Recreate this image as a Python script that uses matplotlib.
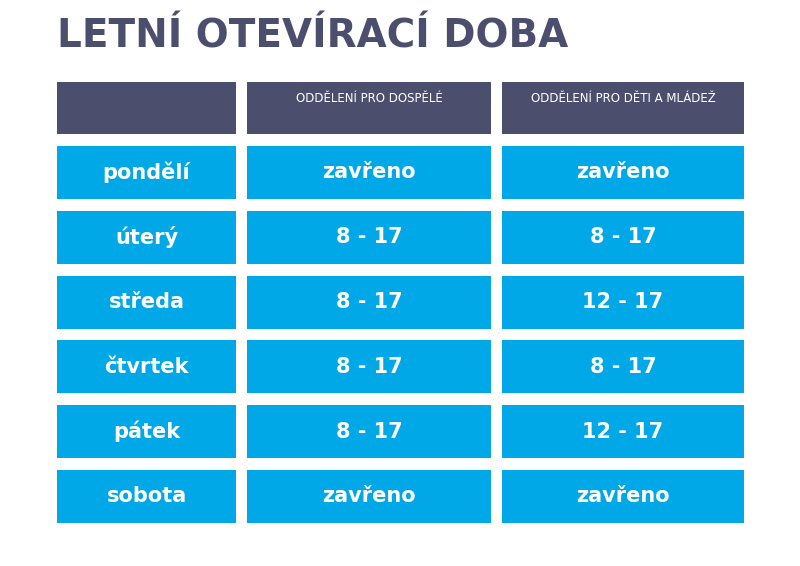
import matplotlib.pyplot as plt
from matplotlib.patches import Rectangle

title = "LETNÍ OTEVÍRACÍ DOBA"
headers = ["", "ODDĚLENÍ PRO DOSPĚLÉ", "ODDĚLENÍ PRO DĚTI A MLÁDEŽ"]
days = ["pondělí", "úterý", "středa", "čtvrtek", "pátek", "sobota"]
adults = ["zavřeno", "8 - 17", "8 - 17", "8 - 17", "8 - 17", "zavřeno"]
children = ["zavřeno", "8 - 17", "12 - 17", "8 - 17", "12 - 17", "zavřeno"]

dark = "#4b4f6d"
blue = "#00a8e8"

fig = plt.figure(figsize=(8, 5.66), dpi=100)
ax = fig.add_axes([0, 0, 1, 1])
ax.set_xlim(0, 800)
ax.set_ylim(566, 0)
ax.axis("off")

ax.text(57, 36, title, fontsize=28, fontweight="bold", color=dark,
        ha="left", va="center", family="DejaVu Sans")

col_x = [(57, 236), (247, 491), (502, 744)]
header_y = (82, 134)
row_y0 = 146
row_h = 53
row_step = 64.8

for (x0, x1), h in zip(col_x, headers):
    ax.add_patch(Rectangle((x0, header_y[0]), x1 - x0, header_y[1] - header_y[0],
                           color=dark, lw=0))
    ax.text((x0 + x1) / 2, 98, h, fontsize=8.5, color="white",
            ha="center", va="center", family="DejaVu Sans")

for i, row in enumerate(zip(days, adults, children)):
    y = row_y0 + i * row_step
    for (x0, x1), val in zip(col_x, row):
        ax.add_patch(Rectangle((x0, y), x1 - x0, row_h, color=blue, lw=0))
        ax.text((x0 + x1) / 2, y + row_h / 2, val, fontsize=15, fontweight="bold",
                color="white", ha="center", va="center", family="DejaVu Sans")

fig.savefig("out.png", dpi=100, facecolor="white")
